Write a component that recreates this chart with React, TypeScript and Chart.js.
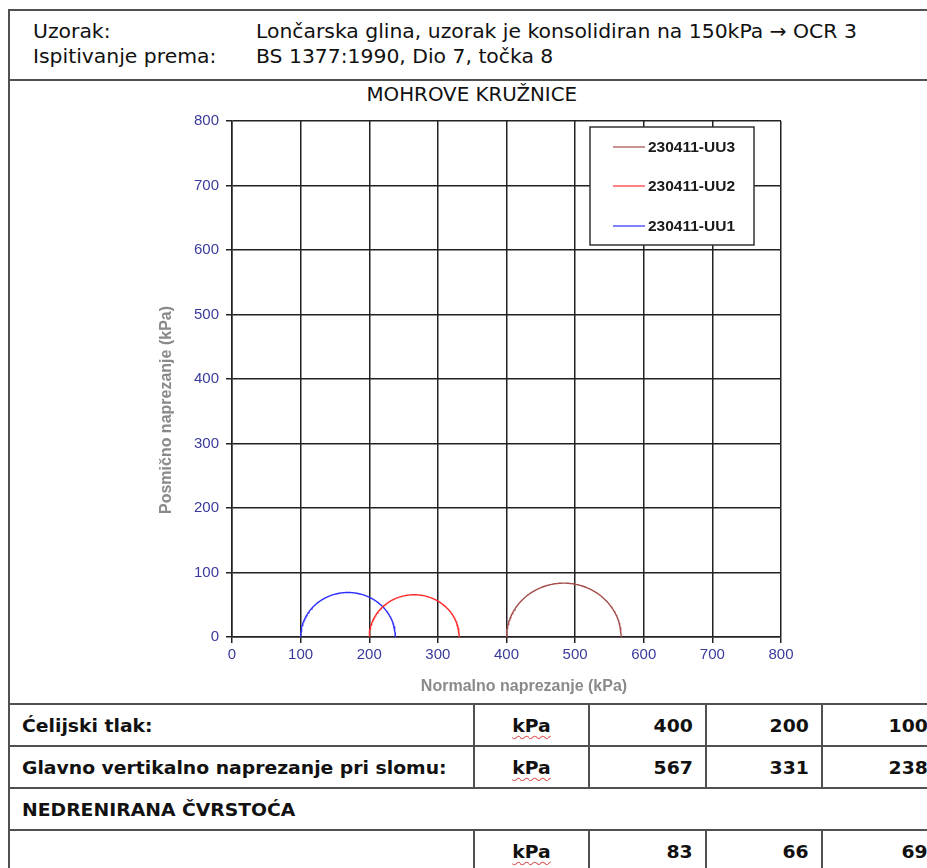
import React, { useEffect, useRef } from 'react';
import { Chart, registerables } from 'chart.js';

Chart.register(...registerables);

// ---- data ----
const sampleIds = ['230411-UU3', '230411-UU2', '230411-UU1'];
const cellPressure = [400, 200, 100]; // sigma3, kPa
const failureStress = [567, 331, 238]; // sigma1, kPa
const undrainedStrength = [83, 66, 69]; // cu, kPa
const axisMin = 0;
const axisMax = 800;
const axisStep = 100;

const headerLabels = ['Uzorak:', 'Ispitivanje prema:'];
const headerValues = [
  'Lončarska glina, uzorak je konsolidiran na 150kPa \u2192 OCR 3',
  'BS 1377:1990, Dio 7, točka 8',
];

// ---- styles ----
const lineColors = ['#a44d4a', '#ff2a2a', '#2e2eff'];
const FONT = '"DejaVu Sans Condensed", "DejaVu Sans", sans-serif';
const CHART_FONT = '"Liberation Sans", Arial, sans-serif';
const STRETCH = 1.16;

function mohrCircle(s3: number, s1: number) {
  const c = (s1 + s3) / 2;
  const r = (s1 - s3) / 2;
  const pts: { x: number; y: number }[] = [];
  const n = 120;
  for (let i = 0; i <= n; i++) {
    const t = Math.PI - (Math.PI * i) / n;
    pts.push({ x: c + r * Math.cos(t), y: r * Math.sin(t) });
  }
  return pts;
}

const overlayPlugin = {
  id: 'overlay',
  afterDraw(chart: any) {
    const { ctx, chartArea: ca } = chart;
    ctx.save();
    // axis titles
    ctx.fillStyle = '#8a8a8a';
    ctx.font = `bold 16px ${CHART_FONT}`;
    ctx.textAlign = 'center';
    ctx.textBaseline = 'middle';
    ctx.fillText('Normalno naprezanje (kPa)', ca.left + 292, ca.bottom + 50);
    ctx.save();
    ctx.translate(ca.left - 65, ca.top + 289);
    ctx.rotate(-Math.PI / 2);
    ctx.fillText('Posmično naprezanje (kPa)', 0, 0);
    ctx.restore();
    // legend box
    const bx = ca.left + 358;
    const by = ca.top + 6;
    const bw = 164;
    const bh = 118;
    ctx.fillStyle = '#ffffff';
    ctx.fillRect(bx, by, bw, bh);
    ctx.strokeStyle = '#333333';
    ctx.lineWidth = 1.5;
    ctx.strokeRect(bx, by, bw, bh);
    const rowsY = [26, 65, 105];
    ctx.font = `bold 15.5px ${CHART_FONT}`;
    ctx.textAlign = 'left';
    chart.data.datasets.forEach((ds: any, i: number) => {
      const y = ca.top + rowsY[i];
      ctx.strokeStyle = ds.borderColor;
      ctx.lineWidth = 1.2;
      ctx.beginPath();
      ctx.moveTo(ca.left + 381, y);
      ctx.lineTo(ca.left + 413, y);
      ctx.stroke();
      ctx.fillStyle = '#1a1a1a';
      ctx.fillText(ds.label, ca.left + 416, y + 1);
    });
    ctx.restore();
  },
};

function MohrChart() {
  const ref = useRef<HTMLCanvasElement>(null);
  useEffect(() => {
    if (!ref.current) return;
    const datasets = sampleIds.map((id, i) => ({
      label: id,
      data: mohrCircle(cellPressure[i], failureStress[i]),
      borderColor: lineColors[i],
      backgroundColor: lineColors[i],
      borderWidth: 1.4,
      pointRadius: 0,
      showLine: true,
      fill: false,
      tension: 0,
    }));
    const gridCfg = {
      color: '#222222',
      lineWidth: 1.5,
      tickLength: 6,
      drawTicks: true,
    };
    const chart = new Chart(ref.current, {
      type: 'scatter',
      data: { datasets },
      options: {
        animation: false,
        responsive: false,
        maintainAspectRatio: false,
        layout: { padding: { left: 0, right: 39, top: 21, bottom: 0 } },
        plugins: { legend: { display: false }, tooltip: { enabled: false } },
        scales: {
          x: {
            type: 'linear',
            min: axisMin,
            max: axisMax,
            ticks: {
              stepSize: axisStep,
              color: '#3a3a9c',
              font: { family: CHART_FONT, size: 15 },
              padding: 3,
            },
            grid: gridCfg,
            border: { display: true, color: '#222222', width: 1.5 },
            afterFit: (s: any) => {
              s.height = 63;
            },
          },
          y: {
            type: 'linear',
            min: axisMin,
            max: axisMax,
            ticks: {
              stepSize: axisStep,
              color: '#3a3a9c',
              font: { family: CHART_FONT, size: 15 },
              padding: 7,
            },
            grid: gridCfg,
            border: { display: true, color: '#222222', width: 1.5 },
            afterFit: (s: any) => {
              s.width = 92;
            },
          },
        },
      },
      plugins: [overlayPlugin],
    });
    return () => chart.destroy();
  }, []);
  return <canvas ref={ref} width={680} height={600} style={{ width: 680, height: 600, display: 'block' }} />;
}

const border = '2px solid #505050';

function W({ children, origin = 'left center' }: { children: React.ReactNode; origin?: string }) {
  return (
    <span style={{ display: 'inline-block', transform: `scaleX(${STRETCH})`, transformOrigin: origin, whiteSpace: 'nowrap' }}>
      {children}
    </span>
  );
}

export default function App() {
  const cell = (extra: React.CSSProperties = {}): React.CSSProperties => ({
    border,
    height: 40,
    padding: '0 12px',
    fontWeight: 'bold',
    fontSize: 18,
    whiteSpace: 'nowrap',
    ...extra,
  });
  const num = cell({ textAlign: 'right' });
  const unit = cell({ textAlign: 'center' });
  const kpa = (
    <W origin="center center">
      <span style={{ textDecoration: 'underline wavy #e05a5a', textDecorationThickness: 1, textUnderlineOffset: 3 }}>kPa</span>
    </W>
  );
  return (
    <div
      style={{
        position: 'fixed',
        left: 0,
        top: 0,
        width: 927,
        height: 868,
        overflow: 'hidden',
        background: '#ffffff',
        fontFamily: FONT,
        color: '#111',
      }}
    >
      {/* header box */}
      <div
        style={{
          position: 'absolute',
          left: 8,
          top: 9,
          width: 960,
          height: 72,
          boxSizing: 'border-box',
          border,
          borderRight: 'none',
        }}
      />
      {headerLabels.map((l, i) => (
        <div key={l} style={{ position: 'absolute', left: 33, top: 19 + i * 25, fontSize: 19.5, lineHeight: '25px' }}>
          <W>{l}</W>
        </div>
      ))}
      {headerValues.map((v, i) => (
        <div key={v} style={{ position: 'absolute', left: 256, top: 19 + i * 25, fontSize: 19.5, lineHeight: '25px', whiteSpace: 'nowrap' }}>
          <W>{v}</W>
        </div>
      ))}
      {/* chart section left border */}
      <div style={{ position: 'absolute', left: 8, top: 80, width: 2, height: 625, background: '#505050' }} />
      <div
        style={{
          position: 'absolute',
          left: 272,
          top: 82,
          width: 400,
          textAlign: 'center',
          fontSize: 19,
          lineHeight: '25px',
        }}
      >
        <W origin="center center">MOHROVE KRUŽNICE</W>
      </div>
      <div style={{ position: 'absolute', left: 140, top: 100 }}>
        <MohrChart />
      </div>
      {/* bottom table */}
      <table
        style={{
          position: 'absolute',
          left: 8,
          top: 703,
          borderCollapse: 'collapse',
          tableLayout: 'fixed',
          width: 932,
        }}
      >
        <colgroup>
          <col style={{ width: 465 }} />
          <col style={{ width: 115 }} />
          <col style={{ width: 117 }} />
          <col style={{ width: 116 }} />
          <col style={{ width: 119 }} />
        </colgroup>
        <tbody>
          <tr>
            <td style={cell()}><W>Ćelijski tlak:</W></td>
            <td style={unit}>{kpa}</td>
            {cellPressure.map((v, i) => (
              <td key={i} style={num}><W origin="right center">{v}</W></td>
            ))}
          </tr>
          <tr>
            <td style={cell()}><W>Glavno vertikalno naprezanje pri slomu:</W></td>
            <td style={unit}>{kpa}</td>
            {failureStress.map((v, i) => (
              <td key={i} style={num}><W origin="right center">{v}</W></td>
            ))}
          </tr>
          <tr>
            <td colSpan={5} style={cell({ borderRight: 'none' })}><W>NEDRENIRANA ČVRSTOĆA</W></td>
          </tr>
          <tr>
            <td style={cell()}></td>
            <td style={unit}>{kpa}</td>
            {undrainedStrength.map((v, i) => (
              <td key={i} style={num}><W origin="right center">{v}</W></td>
            ))}
          </tr>
        </tbody>
      </table>
    </div>
  );
}
